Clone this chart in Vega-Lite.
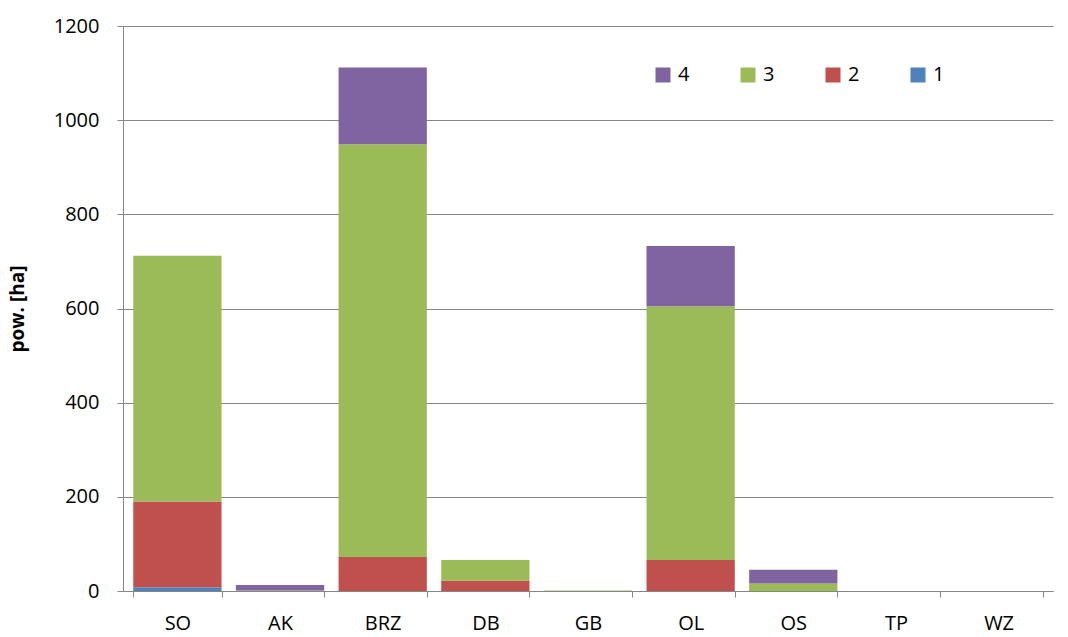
{
  "$schema": "https://vega.github.io/schema/vega-lite/v6.json",
  "width": 930,
  "height": 565,
  "autosize": "none",
  "padding": {"left": 123, "top": 26, "right": 15, "bottom": 46},
  "background": "white",
  "data": {"values": [
    {"cat": "SO", "s": 1, "v": 8}, {"cat": "SO", "s": 2, "v": 182}, {"cat": "SO", "s": 3, "v": 522}, {"cat": "SO", "s": 4, "v": 0},
    {"cat": "AK", "s": 1, "v": 0}, {"cat": "AK", "s": 2, "v": 0}, {"cat": "AK", "s": 3, "v": 1}, {"cat": "AK", "s": 4, "v": 12},
    {"cat": "BRZ", "s": 1, "v": 0}, {"cat": "BRZ", "s": 2, "v": 72}, {"cat": "BRZ", "s": 3, "v": 877}, {"cat": "BRZ", "s": 4, "v": 163},
    {"cat": "DB", "s": 1, "v": 0}, {"cat": "DB", "s": 2, "v": 22}, {"cat": "DB", "s": 3, "v": 44}, {"cat": "DB", "s": 4, "v": 0},
    {"cat": "GB", "s": 1, "v": 0}, {"cat": "GB", "s": 2, "v": 0}, {"cat": "GB", "s": 3, "v": 1}, {"cat": "GB", "s": 4, "v": 0},
    {"cat": "OL", "s": 1, "v": 0}, {"cat": "OL", "s": 2, "v": 66}, {"cat": "OL", "s": 3, "v": 539}, {"cat": "OL", "s": 4, "v": 128},
    {"cat": "OS", "s": 1, "v": 0}, {"cat": "OS", "s": 2, "v": 0}, {"cat": "OS", "s": 3, "v": 16}, {"cat": "OS", "s": 4, "v": 29},
    {"cat": "TP", "s": 1, "v": 0}, {"cat": "TP", "s": 2, "v": 0}, {"cat": "TP", "s": 3, "v": 0}, {"cat": "TP", "s": 4, "v": 0},
    {"cat": "WZ", "s": 1, "v": 0}, {"cat": "WZ", "s": 2, "v": 0}, {"cat": "WZ", "s": 3, "v": 0}, {"cat": "WZ", "s": 4, "v": 0}
  ]},
  "mark": {"type": "bar"},
  "encoding": {
    "x": {
      "field": "cat", "type": "nominal",
      "sort": ["SO", "AK", "BRZ", "DB", "GB", "OL", "OS", "TP", "WZ"],
      "scale": {"paddingInner": 0.14, "paddingOuter": 0.1},
      "axis": {
        "title": null, "labelAngle": 0, "labelFont": "Open Sans", "labelFontSize": 20, "labelColor": "#000000",
        "domainColor": "#868686", "tickColor": "#868686", "tickSize": 6, "tickBand": "extent", "labelPadding": 16,
        "grid": false
      }
    },
    "y": {
      "field": "v", "type": "quantitative", "stack": "zero",
      "scale": {"domain": [0, 1200], "nice": false},
      "axis": {
        "title": "pow. [ha]", "titleFont": "Open Sans", "titleFontSize": 19, "titleFontWeight": "bold", "titleColor": "#000000",
        "titlePadding": 26,
        "values": [0, 200, 400, 600, 800, 1000, 1200], "format": "d",
        "labelFont": "Open Sans", "labelFontSize": 20, "labelColor": "#000000", "labelPadding": 18,
        "domainColor": "#868686", "tickColor": "#868686", "tickSize": 6,
        "grid": true, "gridColor": "#868686", "gridWidth": 1
      }
    },
    "color": {
      "field": "s", "type": "nominal",
      "scale": {"domain": [4, 3, 2, 1], "range": ["#8064A2", "#9BBB59", "#C0504D", "#4F81BD"]},
      "legend": {
        "title": null, "orient": "none", "direction": "horizontal", "legendX": 530, "legendY": 39,
        "symbolType": "square", "symbolSize": 225, "symbolStrokeWidth": 0, "symbolOpacity": 1,
        "labelFont": "Open Sans", "labelFontSize": 20, "labelColor": "#000000", "labelOffset": 5,
        "columnPadding": 48
      }
    },
    "order": {"field": "s", "type": "quantitative", "sort": "ascending"}
  },
  "config": {"view": {"stroke": null}}
}
